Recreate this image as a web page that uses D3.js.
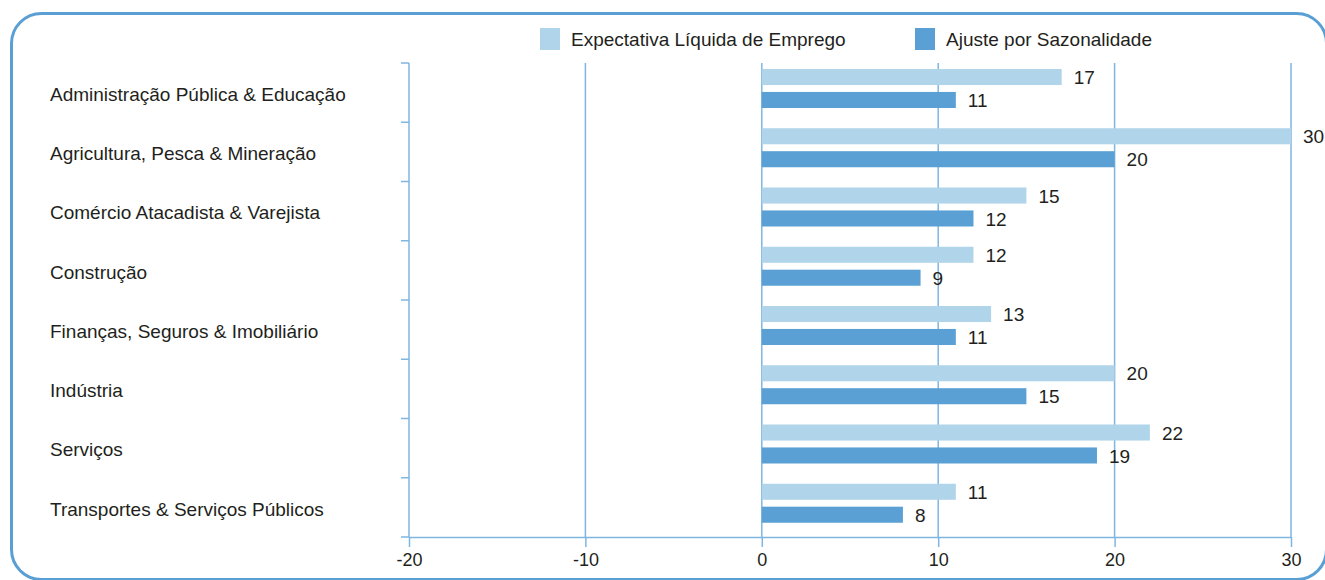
<!DOCTYPE html>
<html>
<head>
<meta charset="utf-8">
<script src="https://cdn.jsdelivr.net/npm/d3@7"></script>
<style>
  body { margin: 0; background: #fff; }
  svg { display: block; font-family: "Liberation Sans", Arial, sans-serif; }
  .cat { font-size: 19px; fill: #231f20; }
  .val { font-size: 19px; fill: #231f20; }
  .tick text { font-size: 18px; fill: #231f20; }
  .leg { font-size: 19px; fill: #231f20; }
</style>
</head>
<body>
<svg width="1325" height="580"></svg>
<script>
// categories and values
const categories = [
    "Administração Pública & Educação",
    "Agricultura, Pesca & Mineração",
    "Comércio Atacadista & Varejista",
    "Construção",
    "Finanças, Seguros & Imobiliário",
    "Indústria",
    "Serviços",
    "Transportes & Serviços Públicos"
];
const expectativa = [17, 30, 15, 12, 13, 20, 22, 11];
const ajuste = [11, 20, 12, 9, 11, 15, 19, 8];
const seriesNames = ["Expectativa Líquida de Emprego", "Ajuste por Sazonalidade"];
const xTicks = [-20, -10, 0, 10, 20, 30];

const colors = ["#b0d5ea", "#5aa0d4"];
const gridColor = "#7fb6e0";

var svg = d3.select("svg");

// rounded frame
svg.append("rect")
    .attr("x", 11.5).attr("y", 13.5)
    .attr("width", 1315).attr("height", 566)
    .attr("rx", 30)
    .attr("fill", "none")
    .attr("stroke", "#5a9fd4")
    .attr("stroke-width", 3);

var x = d3.scaleLinear().domain([-20, 30]).range([409, 1291]);
var y = d3.scaleBand().domain(categories).range([63, 537]);
var ySub = d3.scaleBand().domain([0, 1]).range([6, 45]).paddingInner(0.3);

// vertical grid + bottom axis
var xAxis = svg.append("g")
    .attr("class", "x axis")
    .attr("transform", "translate(0,537)")
    .call(d3.axisBottom(x).tickValues(xTicks).tickFormat(d => String(d))
        .tickSize(10).tickPadding(6).tickSizeOuter(0));
xAxis.select(".domain").attr("stroke", gridColor).attr("stroke-width", 1.5);
xAxis.selectAll(".tick line").attr("stroke", gridColor).attr("stroke-width", 1.5);

svg.append("g")
    .attr("class", "grid")
    .selectAll("line")
    .data(xTicks)
    .enter().append("line")
    .attr("x1", d => x(d)).attr("x2", d => x(d))
    .attr("y1", 63).attr("y2", 537)
    .attr("stroke", gridColor)
    .attr("stroke-width", 1.5);

// left ticks at band boundaries
var bounds = categories.map(c => y(c)).concat([537]);
svg.append("g")
    .selectAll("line")
    .data(bounds)
    .enter().append("line")
    .attr("x1", 401).attr("x2", 409)
    .attr("y1", d => d).attr("y2", d => d)
    .attr("stroke", gridColor)
    .attr("stroke-width", 1.5);

// category labels
svg.append("g")
    .selectAll("text")
    .data(categories)
    .enter().append("text")
    .attr("class", "cat")
    .attr("x", 50)
    .attr("y", d => y(d) + y.bandwidth() / 2 + 1.5)
    .attr("dy", "0.35em")
    .text(d => d);

// bars
var rows = categories.map((c, i) => ({cat: c, vals: [expectativa[i], ajuste[i]]}));

var group = svg.append("g")
    .selectAll("g")
    .data(rows)
    .enter().append("g")
    .attr("transform", d => "translate(0," + y(d.cat) + ")");

group.selectAll("rect")
    .data(d => d.vals.map((v, k) => ({v: v, k: k})))
    .enter().append("rect")
    .attr("x", x(0))
    .attr("y", d => ySub(d.k))
    .attr("width", d => x(d.v) - x(0))
    .attr("height", ySub.bandwidth())
    .attr("fill", d => colors[d.k]);

group.selectAll("text")
    .data(d => d.vals.map((v, k) => ({v: v, k: k})))
    .enter().append("text")
    .attr("class", "val")
    .attr("x", d => x(d.v) + 12)
    .attr("y", d => ySub(d.k) + ySub.bandwidth() / 2 + 0.5)
    .attr("dy", "0.35em")
    .text(d => d.v);

// legend
var legX = [540, 915];
var leg = svg.append("g")
    .selectAll("g")
    .data(seriesNames)
    .enter().append("g")
    .attr("transform", (d, i) => "translate(" + legX[i] + ",28)");

leg.append("rect")
    .attr("width", 20).attr("height", 22)
    .attr("fill", (d, i) => colors[i]);

leg.append("text")
    .attr("class", "leg")
    .attr("x", 31).attr("y", 11)
    .attr("dy", "0.35em")
    .text(d => d);
</script>
</body>
</html>
